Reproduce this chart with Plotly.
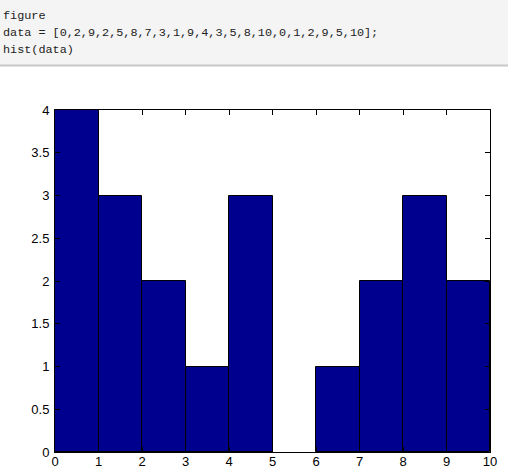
import plotly.graph_objects as go

# Data
code_lines = ["figure",
              "data = [0,2,9,2,5,8,7,3,1,9,4,3,5,8,10,0,1,2,9,5,10];",
              "hist(data)"]
bin_edges = [0, 1, 2, 3, 4, 5, 6, 7, 8, 9, 10]
counts = [4, 3, 2, 1, 3, 0, 1, 2, 3, 2]
y_ticks = [0, 0.5, 1, 1.5, 2, 2.5, 3, 3.5, 4]
x_ticks = [0, 1, 2, 3, 4, 5, 6, 7, 8, 9, 10]

centers = [(a + b) / 2 for a, b in zip(bin_edges[:-1], bin_edges[1:])]
widths = [b - a for a, b in zip(bin_edges[:-1], bin_edges[1:])]
edge_widths = [1 if c > 0 else 0 for c in counts]

W, H = 508, 470
L, R, T, B = 55, 490, 110, 452
pw, ph = R - L, B - T

def px(X):
    return (X - L) / pw

def py(Y):
    return (B - Y) / ph

fig = go.Figure()
fig.add_trace(go.Bar(
    x=centers, y=counts, width=widths,
    marker=dict(color="#00008f", line=dict(color="#000000", width=edge_widths)),
    hoverinfo="x+y",
))

shapes = [
    dict(type="rect", xref="paper", yref="paper", x0=px(-2), x1=px(W + 2),
         y0=py(65), y1=py(-2), fillcolor="#f4f4f4", line=dict(width=0), layer="below"),
    dict(type="line", xref="paper", yref="paper", x0=px(-2), x1=px(W + 2),
         y0=py(65.5), y1=py(65.5), line=dict(color="#c8c8c8", width=2)),
]

annotations = []
for i, (line, yc) in enumerate(zip(code_lines, [16, 33, 50])):
    annotations.append(dict(
        text=line, xref="paper", yref="paper", x=px(1), y=py(yc),
        xanchor="left", yanchor="middle", showarrow=False,
        font=dict(family="Liberation Mono, Courier New, monospace", size=11.8, color="#222222"),
    ))

axis_common = dict(
    showline=True, linecolor="#000000", linewidth=1, mirror="ticks",
    ticks="inside", ticklen=5, tickcolor="#000000", tickwidth=1,
    showgrid=False, zeroline=False, automargin=False,
    tickfont=dict(family="Liberation Sans, Arial, sans-serif", size=13, color="#000000"),
)

fig.update_layout(
    width=W, height=H,
    margin=dict(l=L, r=W - R, t=T, b=H - B, pad=0, autoexpand=False),
    paper_bgcolor="#ffffff", plot_bgcolor="#ffffff",
    showlegend=False, bargap=0,
    xaxis=dict(range=[0, 10], tickvals=x_ticks, ticklabelstandoff=-3, **axis_common),
    yaxis=dict(range=[0, 4], tickvals=y_ticks, ticklabelstandoff=2, **axis_common),
    shapes=shapes, annotations=annotations,
)

fig.write_html("out.html", config={"displayModeBar": False},
               post_script="document.body.style.margin='0';document.body.style.padding='0';document.body.style.overflow='hidden';")
